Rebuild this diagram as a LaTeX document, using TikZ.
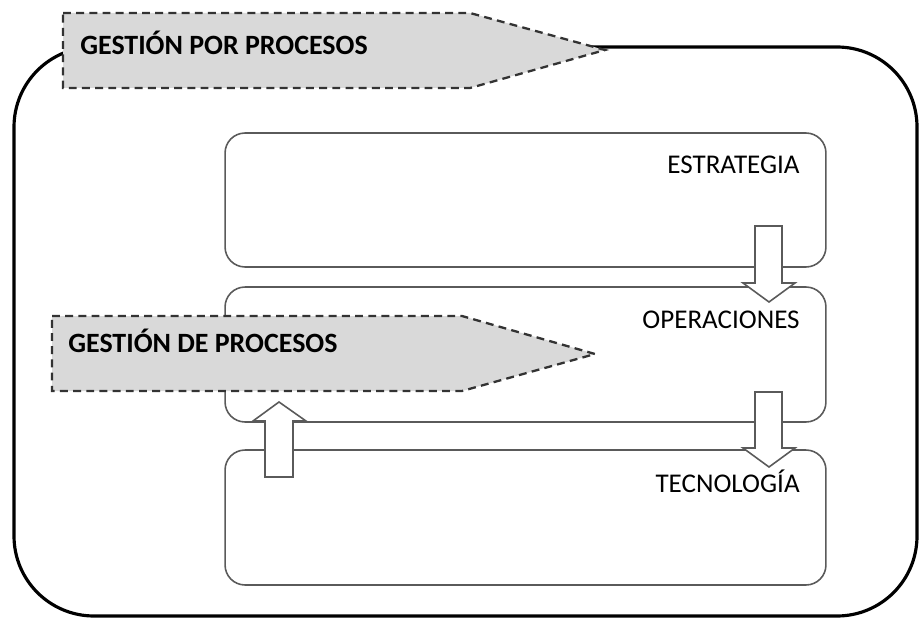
\documentclass[tikz,border=0pt]{standalone}
\usepackage{fontspec}
\setmainfont{Carlito}
\usepackage{tikz}
\definecolor{bannergray}{HTML}{D9D9D9}
\definecolor{dashgray}{HTML}{333333}
\definecolor{boxgray}{HTML}{5A5A5A}
\tikzset{
  stagebox/.style={draw=boxgray, line width=0.9pt, fill=white, rounded corners=0.4cm,
    minimum width=12.02cm, inner sep=0pt},
  stagelabel/.style={anchor=east, inner sep=0pt, font=\fontsize{15.4}{17}\selectfont},
  bannerline/.style={draw=dashgray, fill=bannergray, line width=1.3pt, dash pattern=on 4.5pt off 3pt},
  bannerlabel/.style={anchor=west, inner sep=0pt, font=\fontsize{15.9}{18}\selectfont\bfseries},
  blockarrow/.style={draw=boxgray, line width=0.9pt, fill=white}
}

\begin{document}
\begin{tikzpicture}[x=0.02cm, y=-0.02cm]
  \useasboundingbox (0,0) rectangle (919,618);

  % frame
  \draw[line width=1.8pt, rounded corners=1.6cm] (14,47) rectangle (917,616);

  % banner on top
  \path[bannerline] (63,13) -- (470,13) -- (605,50) -- (470,88) -- (63,88) -- cycle;
  \node[bannerlabel] (porLabel) at (80,43) {GESTIÓN POR PROCESOS};

  % stages
  \node[stagebox, minimum height=2.68cm] (estrategia) at (525.5,200) {};
  \node[stagebox, minimum height=2.70cm] (operaciones) at (525.5,354.5) {};
  \node[stagebox, minimum height=2.70cm] (tecnologia) at (525.5,517.5) {};
  \node[stagelabel] (estrategiaText) at (800,165) {ESTRATEGIA};
  \node[stagelabel] (operacionesText) at (800,320) {OPERACIONES};
  \node[stagelabel] (tecnologiaText) at (800,481) {TECNOLOGÍA};

  % block arrows
  \path[blockarrow] (755,226) -- (782,226) -- (782,283) -- (795,283) -- (769,302)
    -- (743,283) -- (755,283) -- cycle;
  \path[blockarrow] (755,392) -- (782,392) -- (782,448) -- (795,448) -- (769,467)
    -- (743,448) -- (755,448) -- cycle;
  \path[blockarrow] (265,477) -- (293,477) -- (293,421) -- (306,421) -- (279,402)
    -- (253,421) -- (265,421) -- cycle;

  % second banner
  \path[bannerline] (52,316) -- (462,316) -- (595,354) -- (462,391) -- (52,391) -- cycle;
  \node[bannerlabel] (deLabel) at (68,341) {GESTIÓN DE PROCESOS};
\end{tikzpicture}
\end{document}
